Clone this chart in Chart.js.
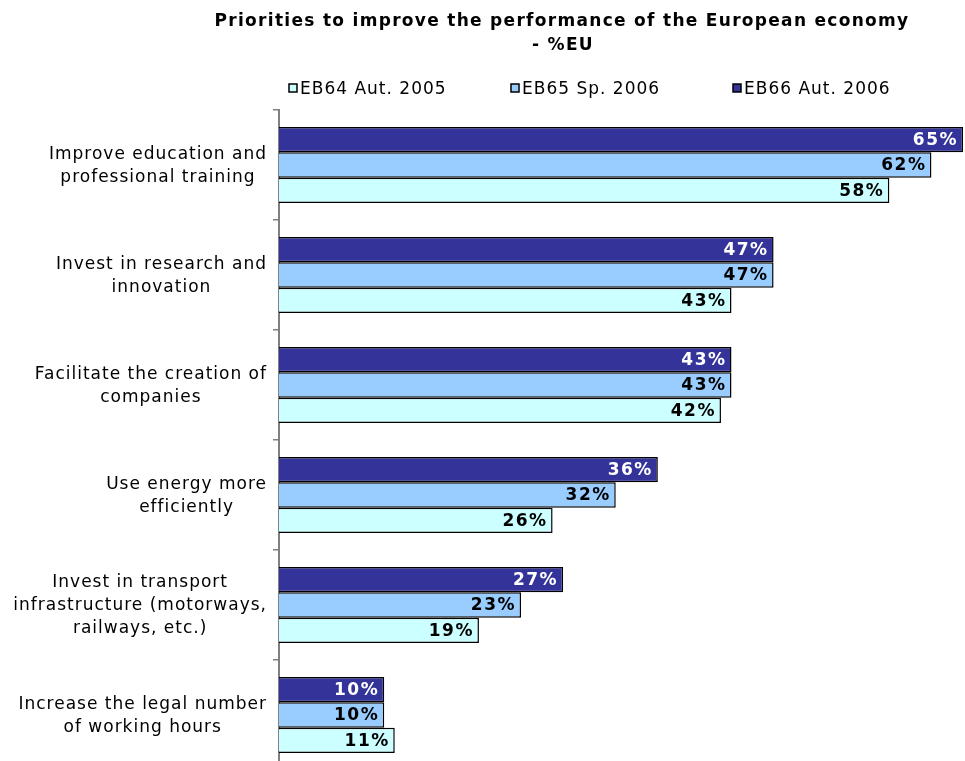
<!DOCTYPE html>
<html>
<head>
<meta charset="utf-8">
<script src="https://cdn.jsdelivr.net/npm/chart.js@4/dist/chart.umd.min.js"></script>
<style>
  html, body { margin: 0; padding: 0; background: #fff; overflow: hidden; }
  #wrap { width: 965px; height: 761px; overflow: hidden; }
</style>
</head>
<body>
<div id="wrap"><canvas id="chart" width="965" height="772"></canvas></div>
<script>
const categories = [
  ["Improve education and", "professional training"],
  ["Invest in research and", "innovation"],
  ["Facilitate the creation of", "companies"],
  ["Use energy more", "efficiently"],
  ["Invest in transport", "infrastructure (motorways,", "railways, etc.)"],
  ["Increase the legal number", "of working hours"]
];
const eb64 = [58, 43, 42, 26, 19, 11];
const eb65 = [62, 47, 43, 32, 23, 10];
const eb66 = [65, 47, 43, 36, 27, 10];
const titleLines = ["Priorities to improve the performance of the European economy", "- %EU"];

const FONT = "'DejaVu Sans', Verdana, sans-serif";

// category labels: each block centred on its own widest line, right against the axis
const catLabels = {
  id: "catLabels",
  afterDraw(chart) {
    const ctx = chart.ctx;
    const y = chart.scales.y;
    ctx.save();
    ctx.letterSpacing = "1px";
    ctx.font = "17px " + FONT;
    ctx.fillStyle = "#000";
    ctx.textAlign = "center";
    ctx.textBaseline = "middle";
    chart.data.labels.forEach((lines, i) => {
      const w = Math.max(...lines.map(l => ctx.measureText(l).width));
      const cx = y.right - 12 - w / 2;
      const cy = y.getPixelForTick(i) + 1;
      const lh = 23;
      lines.forEach((l, k) => {
        ctx.fillText(l, cx, cy + (k - (lines.length - 1) / 2) * lh);
      });
    });
    ctx.restore();
  }
};

// value labels at the end of each bar
const valueLabels = {
  id: "valueLabels",
  afterDatasetsDraw(chart) {
    const ctx = chart.ctx;
    ctx.save();
    ctx.letterSpacing = "1.5px";
    ctx.font = "bold 17px " + FONT;
    ctx.textAlign = "right";
    ctx.textBaseline = "middle";
    chart.data.datasets.forEach((ds, i) => {
      const meta = chart.getDatasetMeta(i);
      meta.data.forEach((bar, j) => {
        ctx.fillStyle = i === 0 ? "#ffffff" : "#000000";
        ctx.fillText(ds.data[j] + "%", bar.x - 5, bar.y + 1);
      });
    });
    ctx.restore();
  }
};

// title + legend drawn by hand so they sit where the original has them
const header = {
  id: "header",
  afterDraw(chart) {
    const ctx = chart.ctx;
    ctx.save();
    ctx.fillStyle = "#000";
    ctx.textAlign = "center";
    ctx.textBaseline = "middle";
    ctx.letterSpacing = "1.3px";
    ctx.font = "bold 17px " + FONT;
    ctx.fillText(titleLines[0], 562, 22);
    ctx.fillText(titleLines[1], 563, 46);

    ctx.letterSpacing = "1px";
    ctx.font = "17px " + FONT;
    ctx.textAlign = "left";
    const items = chart.data.datasets.slice().reverse();
    items.forEach((ds, k) => {
      const x = 289 + k * 222;
      ctx.fillStyle = ds.backgroundColor;
      ctx.fillRect(x, 84, 8, 8);
      ctx.strokeStyle = "#000";
      ctx.lineWidth = 1.5;
      ctx.strokeRect(x, 84, 8, 8);
      ctx.fillStyle = "#000";
      ctx.fillText(ds.label, x + 11, 90);
    });
    ctx.restore();
  }
};

new Chart(document.getElementById("chart"), {
  type: "bar",
  data: {
    labels: categories,
    datasets: [
      { label: "EB66 Aut. 2006", data: eb66, backgroundColor: "#333399" },
      { label: "EB65 Sp. 2006", data: eb65, backgroundColor: "#99CCFF" },
      { label: "EB64 Aut. 2005", data: eb64, backgroundColor: "#CCFFFF" }
    ]
  },
  options: {
    indexAxis: "y",
    responsive: false,
    animation: false,
    datasets: {
      bar: {
        borderColor: "#000000",
        borderWidth: 1.5,
        barPercentage: 1,
        categoryPercentage: 0.69
      }
    },
    layout: { padding: { top: 110, right: 2, bottom: 2, left: 0 } },
    plugins: {
      legend: { display: false },
      title: { display: false },
      tooltip: { enabled: false }
    },
    scales: {
      x: { display: false, min: 0, max: 65 },
      y: {
        afterFit(scale) { scale.width = 279; },
        grid: {
          offset: true,
          drawOnChartArea: false,
          drawTicks: true,
          tickLength: 6,
          color: "#808080",
          lineWidth: 1.5
        },
        border: { display: true, color: "#808080", width: 2 },
        ticks: { display: false }
      }
    }
  },
  plugins: [valueLabels, catLabels, header]
});
</script>
</body>
</html>
